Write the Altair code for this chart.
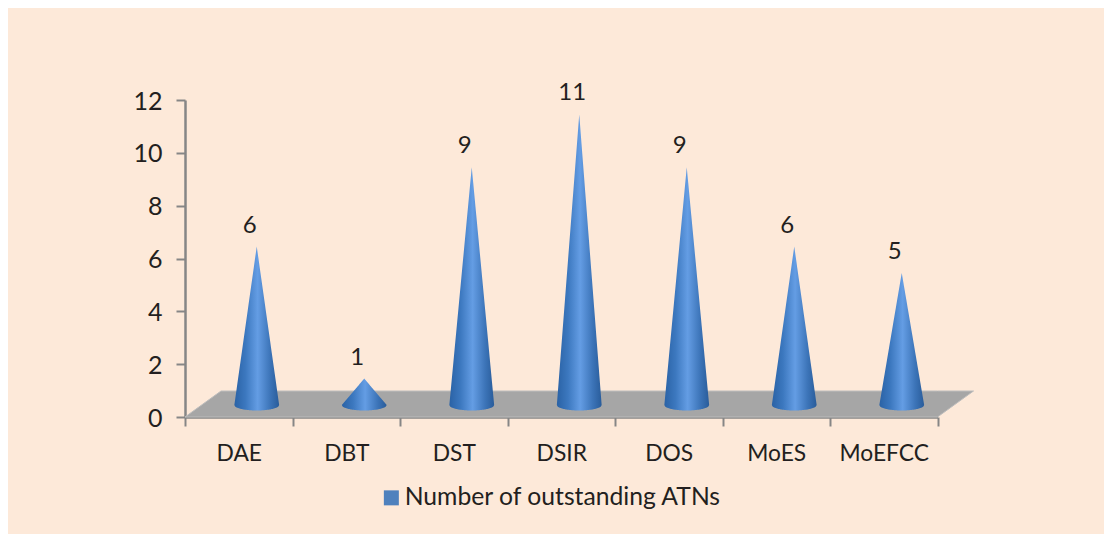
import altair as alt
import numpy as np
import pandas as pd

categories = ["DAE", "DBT", "DST", "DSIR", "DOS", "MoES", "MoEFCC"]
values = [6, 1, 9, 11, 9, 6, 5]
series_name = "Number of outstanding ATNs"

PLOT_W, PLOT_H = 752.5, 317
PX_X = PLOT_W / 7
PX_Y = PLOT_H / 12
FONT = "Lato"
INK = "#231f20"
AXIS = "#868686"

# cone outlines derived from the values through the chart's scales
t = np.linspace(-1, 1, 61)
rows = []
for i, (c, v) in enumerate(zip(categories, values)):
    cx = i + 0.5 + 18 / PX_X
    w = 22.4 / PX_X
    base = 12 / PX_Y
    for tt in t:
        rows.append({
            "cat": c,
            "x": cx + tt * w,
            "top": base + v * (1 - abs(tt)),
            "bottom": base - (5.5 / PX_Y) * np.sqrt(max(0, 1 - tt * tt)),
        })
cones = pd.DataFrame(rows)

depth_x = 36 / PX_X
depth_y = 26 / PX_Y
floor = pd.DataFrame({
    "x": [0, depth_x, 7, 7 + depth_x],
    "top": [0, depth_y, depth_y, depth_y],
    "bottom": [0, 0, 0, depth_y],
})

labels = pd.DataFrame({
    "x": [i + 0.5 + 11 / PX_X for i in range(len(categories))],
    "y": [v + 33 / PX_Y for v in values],
    "v": values,
})
base_df = pd.DataFrame({"cat": categories, "v": values, "series": series_name})

xq = alt.Scale(domain=[0, 7], nice=False, zero=False)
yq = alt.Scale(domain=[0, 12], nice=False)
y_axis = alt.Axis(values=list(range(0, 13, 2)), labelFont=FONT, labelFontSize=25,
                  labelColor=INK, labelPadding=14, labelOffset=1, domainColor=AXIS, domainWidth=2.5,
                  tickColor=AXIS, tickWidth=2, tickSize=9, grid=False, title=None)

axis_layer = alt.Chart(base_df).mark_square(opacity=0, size=1).encode(
    x=alt.X("cat:N", sort=categories, title=None,
            scale=alt.Scale(paddingInner=0, paddingOuter=0),
            axis=alt.Axis(tickBand="extent", labelAngle=0, labelFont=FONT, labelFontSize=22.8,
                          labelColor=INK, labelPadding=16, domainColor=AXIS, domainWidth=2.5,
                          tickColor=AXIS, tickWidth=2, tickSize=9, grid=False)),
    y=alt.Y("v:Q", scale=yq, axis=y_axis),
    color=alt.Color("series:N", title=None,
                    scale=alt.Scale(range=["#4f81bd"]),
                    legend=alt.Legend(orient="none", legendX=194, legendY=385.5, symbolType="square",
                                      symbolSize=225, symbolOpacity=1, symbolStrokeWidth=0,
                                      labelFont=FONT, labelFontSize=24.7, labelColor=INK,
                                      labelOffset=1, labelLimit=500)),
)

floor_layer = alt.Chart(floor).mark_area(color="#a6a6a6", stroke="#bdbdbd", strokeWidth=1).encode(
    x=alt.X("x:Q", scale=xq, axis=None),
    y=alt.Y("top:Q", scale=yq, axis=y_axis),
    y2="bottom:Q",
)

gradient = alt.Gradient(
    gradient="linear", x1=0, x2=1, y1=0, y2=0,
    stops=[
        alt.GradientStop(color="#2a62a5", offset=0),
        alt.GradientStop(color="#3c78bf", offset=0.25),
        alt.GradientStop(color="#649de4", offset=0.52),
        alt.GradientStop(color="#3c74b8", offset=0.8),
        alt.GradientStop(color="#295c9a", offset=1),
    ],
)
cone_layer = alt.Chart(cones).mark_area(color=gradient, interpolate="linear").encode(
    x=alt.X("x:Q", scale=xq, axis=None),
    y=alt.Y("top:Q", scale=yq, axis=y_axis),
    y2="bottom:Q",
    detail="cat:N",
)

text_layer = alt.Chart(labels).mark_text(font=FONT, fontSize=24, color=INK, baseline="middle").encode(
    x=alt.X("x:Q", scale=xq, axis=None),
    y=alt.Y("y:Q", scale=yq, axis=y_axis),
    text="v:Q",
)

chart = (
    alt.layer(floor_layer, cone_layer, text_layer, axis_layer)
    .resolve_scale(x="independent")
    .properties(
        width=PLOT_W, height=PLOT_H,
        background="#fde9d9",
        padding={"left": 177, "top": 92, "right": 166.5, "bottom": 117},
        autosize=alt.AutoSizeParams(type="none"),
    )
    .configure_view(stroke=None)
)

chart.save("out.html", embed_options={"renderer": "svg", "actions": False})
